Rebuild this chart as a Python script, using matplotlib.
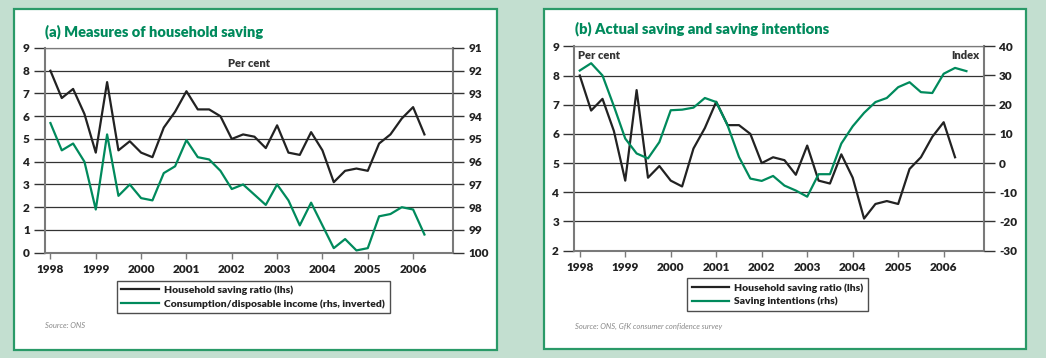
import matplotlib
matplotlib.use('Agg')
import matplotlib.pyplot as plt
from matplotlib.patches import Rectangle

plt.rcParams['font.family'] = ['Lato', 'DejaVu Sans']

# quarterly, starting 1998 Q1
saving_ratio = [8.0, 6.8, 7.2, 6.1, 4.4, 7.5, 4.5, 4.9, 4.4, 4.2, 5.5, 6.2, 7.1,
                6.3, 6.3, 6.0, 5.0, 5.2, 5.1, 4.6, 5.6, 4.4, 4.3, 5.3, 4.5,
                3.1, 3.6, 3.7, 3.6, 4.8, 5.2, 5.9, 6.4, 5.2]
# consumption / disposable income, per cent (rhs, inverted)
consumption = [94.3, 95.5, 95.2, 96.0, 98.1, 94.8, 97.5, 97.0, 97.6, 97.7, 96.5,
               96.2, 95.05, 95.8, 95.9, 96.4, 97.2, 97.0, 97.45, 97.9, 97.0,
               97.7, 98.8, 97.8, 98.8, 99.8, 99.4, 99.9, 99.8, 98.4, 98.3,
               98.0, 98.1, 99.2]
# GfK saving intentions index (rhs)
intentions = [31.7, 34.2, 30.0, 19.5, 8.4, 3.3, 1.6, 7.2, 18.1, 18.3, 19.0,
              22.3, 20.9, 12.9, 2.1, -5.3, -6.1, -4.4, -7.7, -9.4, -11.5,
              -3.8, -3.8, 6.7, 12.6, 17.2, 20.9, 22.3, 26.0, 27.7, 24.3, 24.0,
              30.6, 32.6, 31.5]
years = list(range(1998, 2007))

q_sr = [1998 + i / 4 for i in range(len(saving_ratio))]
q_c = [1998 + i / 4 for i in range(len(consumption))]
q_int = [1998 + i / 4 for i in range(len(intentions))]

GREEN = '#008a5c'
BG = '#c3dfd0'
BORDER = '#2a9a68'
GRID = '#333333'
SPINE = '#7a7a7a'
TXT = '#222222'

fig = plt.figure(figsize=(10.46, 3.58), dpi=100)
fig.patch.set_facecolor(BG)

W, H = 1046.0, 358.0


def fbox(x0, y0, x1, y1):
    # pixel box (top-left origin) -> figure fraction rect
    return [x0 / W, 1 - y1 / H, (x1 - x0) / W, (y1 - y0) / H]


# white panels with green border, behind everything
for (x0, y0, x1, y1) in [(14, 9, 497, 350), (544, 9, 1026, 349)]:
    r = fbox(x0, y0, x1, y1)
    fig.patches.append(Rectangle((r[0], r[1]), r[2], r[3], transform=fig.transFigure,
                                 facecolor='white', edgecolor=BORDER, lw=1.6, zorder=-5))


def style_axes(ax, ax2, ylim, yticks, ylim2, yticks2):
    ax.set_zorder(1)
    ax2.set_zorder(2)
    ax.patch.set_alpha(0)
    ax.set_xlim(1997.88, 2006.88)
    ax.set_ylim(*ylim)
    ax.set_yticks(yticks)
    ax.set_yticklabels([str(t) for t in yticks], fontsize=8.5, fontweight='heavy', color=TXT)
    ax.set_xticks(years)
    ax.set_xticklabels([str(y) for y in years], fontsize=8.5, fontweight='heavy', color=TXT)
    ax.tick_params(axis='y', length=8, width=1.0, color=GRID, pad=3)
    ax.tick_params(axis='x', length=4, width=1.0, color=SPINE, pad=4)
    ax.grid(axis='y', color=GRID, lw=0.9)
    ax.set_axisbelow(True)
    for s in ['left', 'right', 'bottom']:
        ax.spines[s].set_color(SPINE)
        ax.spines[s].set_linewidth(1.5)
    ax.spines['top'].set_color(SPINE)
    ax.spines['top'].set_linewidth(0.9)
    ax2.set_ylim(*ylim2)
    ax2.set_yticks(yticks2)
    ax2.set_yticklabels([str(t) for t in yticks2], fontsize=8.5, fontweight='heavy', color=TXT)
    ax2.tick_params(axis='y', length=8, width=1.0, color=GRID, pad=3)
    for s in ax2.spines.values():
        s.set_visible(False)


def add_legend(axis, handles, labels, x0, y0):
    leg = axis.legend(handles, labels, loc='upper left', bbox_to_anchor=(x0 / W, 1 - y0 / H),
                      bbox_transform=fig.transFigure, frameon=True, fancybox=False,
                      prop={'size': 7.5, 'weight': 'heavy'}, handlelength=3.6,
                      borderpad=0.45, labelspacing=0.4, handletextpad=0.5,
                      borderaxespad=0)
    leg.get_frame().set_edgecolor(TXT)
    leg.get_frame().set_linewidth(1.0)
    for t in leg.get_texts():
        t.set_color(TXT)
    return leg


# ---- (a) ----
ax = fig.add_axes(fbox(45, 48, 453, 252.7))
ax2 = ax.twinx()
style_axes(ax, ax2, (0, 9), list(range(0, 10)), (100, 91), list(range(91, 101)))
l1, = ax.plot(q_sr, saving_ratio, color='#222222', lw=1.6, zorder=3)
l2, = ax2.plot(q_c, consumption, color=GREEN, lw=1.6, zorder=3)
ax.text(0.5, 0.925, 'Per cent', transform=ax.transAxes, ha='center', va='center',
        fontsize=8, fontweight='heavy', color='#333333')
fig.text(45 / W, 1 - 32 / H, '(a) Measures of household saving', color=GREEN,
         fontsize=10.5, fontweight='heavy', va='center', ha='left')
add_legend(ax2, [l1, l2], ['Household saving ratio (lhs)',
                           'Consumption/disposable income (rhs, inverted)'], 116.7, 280.7)
fig.text(45 / W, 1 - 326 / H, 'Source: ONS', fontsize=5.5, style='italic',
         color='#8a8a8a', va='center')

# ---- (b) ----
bx = fig.add_axes(fbox(574.3, 46.3, 983.7, 250.7))
bx2 = bx.twinx()
style_axes(bx, bx2, (2, 9), list(range(2, 10)), (-30, 40), list(range(-30, 41, 10)))
m1, = bx.plot(q_sr, saving_ratio, color='#222222', lw=1.6, zorder=3)
m2, = bx2.plot(q_int, intentions, color=GREEN, lw=1.6, zorder=3)
bx.text(0.008, 0.955, 'Per cent', transform=bx.transAxes, ha='left', va='center',
        fontsize=8, fontweight='heavy', color='#333333')
bx.text(0.99, 0.955, 'Index', transform=bx.transAxes, ha='right', va='center',
        fontsize=8, fontweight='heavy', color='#333333')
fig.text(575 / W, 1 - 29 / H, '(b) Actual saving and saving intentions', color=GREEN,
         fontsize=10.6, fontweight='heavy', va='center', ha='left')
add_legend(bx2, [m1, m2], ['Household saving ratio (lhs)', 'Saving intentions (rhs)'],
           687, 278.3)
fig.text(575 / W, 1 - 326 / H, 'Source: ONS, GfK consumer confidence survey',
         fontsize=5.5, style='italic', color='#8a8a8a', va='center')

fig.savefig('out.png', dpi=100, facecolor=BG)
